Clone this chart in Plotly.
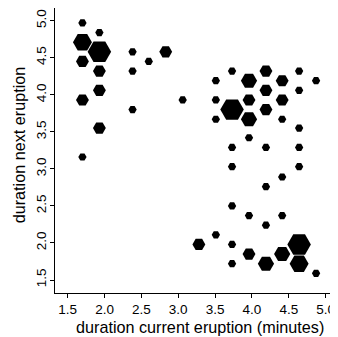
import math
import plotly.graph_objects as go

# Hexagonal bins: centre of each bin (current eruption, next eruption) and its count
current_eruption = [1.70, 1.70, 1.70, 1.70, 1.70,
                    1.93, 1.93, 1.93, 1.93, 1.93,
                    2.38, 2.38, 2.38, 2.60, 2.83, 3.06, 3.28,
                    3.51, 3.51, 3.51, 3.51,
                    3.73, 3.73, 3.73, 3.73, 3.73, 3.73, 3.73,
                    3.96, 3.96, 3.96, 3.96, 3.96, 3.96,
                    4.19, 4.19, 4.19, 4.19, 4.19, 4.19, 4.19,
                    4.41, 4.41, 4.41, 4.41, 4.41, 4.41,
                    4.64, 4.64, 4.64, 4.64, 4.64, 4.64, 4.64,
                    4.87, 4.87]
next_eruption = [4.97, 4.71, 4.45, 3.93, 3.16,
                 4.84, 4.58, 4.32, 4.06, 3.55,
                 4.58, 4.32, 3.80, 4.45, 4.58, 3.93, 1.98,
                 4.19, 3.93, 3.67, 2.11,
                 4.32, 3.80, 3.29, 3.03, 2.50, 1.98, 1.72,
                 4.19, 3.93, 3.67, 3.42, 2.37, 1.85,
                 4.32, 4.06, 3.80, 3.29, 2.76, 2.24, 1.72,
                 4.19, 3.93, 3.67, 2.89, 2.37, 1.85,
                 4.32, 4.06, 3.55, 3.29, 3.03, 1.98, 1.72,
                 4.19, 1.59]
counts = [1, 4, 2, 2, 1,
          1, 6, 2, 2, 2,
          1, 1, 1, 1, 2, 1, 2,
          1, 1, 1, 1,
          1, 6, 1, 1, 1, 1, 1,
          3, 2, 3, 1, 1, 2,
          2, 2, 2, 1, 1, 1, 3,
          2, 2, 1, 1, 1, 3,
          1, 1, 1, 1, 1, 6, 4,
          1, 1]

x_ticks = [1.5, 2.0, 2.5, 3.0, 3.5, 4.0, 4.5, 5.0]
y_ticks = [1.5, 2.0, 2.5, 3.0, 3.5, 4.0, 4.5, 5.0]
x_title = "duration current eruption (minutes)"
y_title = "duration next eruption"

# hexagon area grows linearly with the count
sizes = [math.sqrt(69 + 97 * (c - 1)) for c in counts]

fig = go.Figure(go.Scatter(
    x=current_eruption, y=next_eruption, mode="markers",
    marker=dict(symbol="hexagon2", size=sizes, color="black", opacity=1,
                line=dict(width=0)),
    hoverinfo="x+y+text", text=[f"count {c}" for c in counts],
))

font = "Liberation Sans, Arial, sans-serif"
fig.update_layout(
    width=330, height=329,
    margin=dict(l=47, r=0, t=0, b=44),
    paper_bgcolor="white", plot_bgcolor="white",
    showlegend=False,
    font=dict(family=font, color="black"),
    xaxis=dict(
        range=[1.3277, 5.1676], showgrid=False, zeroline=False,
        automargin=False,
        showline=True, linecolor="black", linewidth=1, mirror=True,
        ticks="outside", ticklen=4, tickcolor="black",
        tickvals=x_ticks, ticktext=[f"{v:.1f}" for v in x_ticks],
        tickfont=dict(size=13.5), ticklabelstandoff=0,
    ),
    yaxis=dict(
        range=[1.3245, 5.1714], showgrid=False, zeroline=False,
        automargin=False,
        showline=True, linecolor="black", linewidth=1,
        ticks="outside", ticklen=4, tickcolor="black",
        tickvals=y_ticks, ticktext=[f"{v:.1f}" for v in y_ticks],
        tickangle=-90, tickfont=dict(size=13.5), ticklabelstandoff=-1,
    ),
    annotations=[
        dict(text=x_title, xref="paper", yref="paper", x=0.512, y=-0.118,
             xanchor="center", yanchor="middle", showarrow=False,
             font=dict(size=16.2)),
        dict(text=y_title, xref="paper", yref="paper", x=-0.129, y=0.52,
             xanchor="center", yanchor="middle", showarrow=False,
             textangle=-90, font=dict(size=16.2)),
    ],
)

fig.write_html("out.html")
